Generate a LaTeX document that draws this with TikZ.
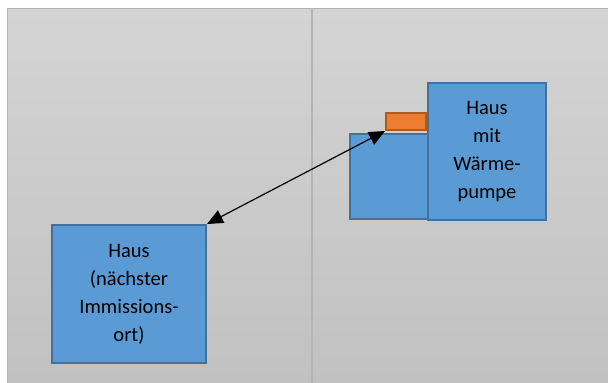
\documentclass[tikz,border=0pt]{standalone}
\usepackage{fontspec}
\setmainfont{Carlito}
\usetikzlibrary{arrows.meta}
\definecolor{bluefill}{HTML}{5B9BD5}
\definecolor{blueline}{HTML}{41719C}
\definecolor{orangefill}{HTML}{ED7D31}
\definecolor{orangeline}{HTML}{AE5A21}
\definecolor{bgtop}{HTML}{D4D4D4}
\definecolor{bgbot}{HTML}{C1C1C1}
\definecolor{frameline}{HTML}{B4B4B4}
\tikzset{
  house/.style={draw=blueline, fill=bluefill, line width=2pt, anchor=north west,
    inner sep=0pt, align=center, font=\fontsize{20.5}{28}\selectfont, text=black},
  pump/.style={draw=orangeline, fill=orangefill, line width=2pt, anchor=north west, inner sep=0pt},
  gaparrow/.style={line width=1.2pt, {Triangle[length=16pt,width=14pt]}-{Triangle[length=16pt,width=14pt]}},
  frame/.style={draw=frameline, line width=1.2pt}
}
\begin{document}
\begin{tikzpicture}[x=1pt,y=-1pt]
\useasboundingbox (0,0) rectangle (608,383);
\fill[white] (0,0) rectangle (608,383);
\shade[top color=bgtop, bottom color=bgbot] (7.5,8.5) rectangle (608,383);
\draw[frame] (7.5,383) -- (7.5,8.5) -- (608,8.5);
\draw[frame] (312,8.5) -- (312,383);
\node[house, minimum width=154pt, minimum height=138pt] (near) at (51,224)
  {Haus\\(nächster\\Immissions-\\ort)};
\node[house, minimum width=78pt, minimum height=85pt] (annex) at (349,133) {};
\node[house, minimum width=118pt, minimum height=137pt] (main) at (427,82)
  {Haus\\mit\\Wärme-\\pumpe};
\node[pump, minimum width=40pt, minimum height=17pt] (hp) at (385,112) {};
\draw[gaparrow] (hp.south west) -- (near.north east);
\end{tikzpicture}
\end{document}
